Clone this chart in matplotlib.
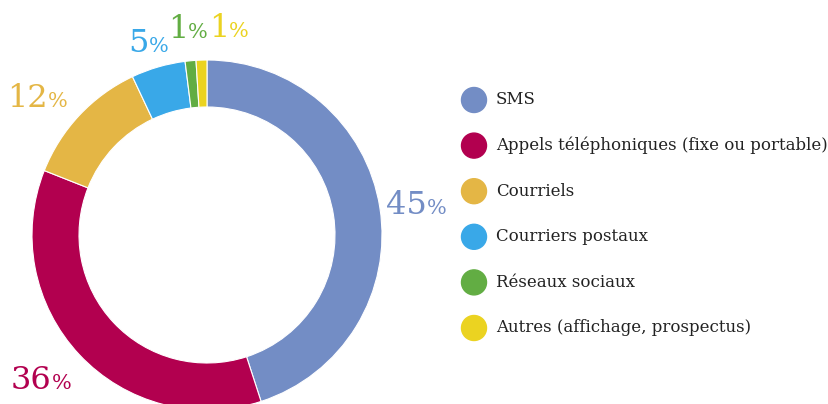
import numpy as np
import matplotlib
matplotlib.use('Agg')
import matplotlib.pyplot as plt
from matplotlib.patches import Circle

categories = ['SMS', 'Appels téléphoniques (fixe ou portable)', 'Courriels',
              'Courriers postaux', 'Réseaux sociaux', 'Autres (affichage, prospectus)']
values = [45, 36, 12, 5, 1, 1]
colors = ['#738DC5', '#B2004F', '#E4B645', '#39A8E8', '#62AD43', '#EBD321']

# label placement tweaks (radius in px, angle nudge in degrees)
label_r = [212, 218, 220, 204, 210, 211]
label_nudge = [0, -2.7, 3.7, 0.6, -0.2, -7.8]

W, H = 829, 404
fig = plt.figure(figsize=(W / 100, H / 100), dpi=100)
ax = fig.add_axes([0, 0, 1, 1])

cx, cy, R = 207, H - 235, 175
wedges, _ = ax.pie(values, colors=colors, startangle=90, counterclock=False,
                   center=(cx, cy), radius=R,
                   wedgeprops=dict(width=47, edgecolor='white', linewidth=0.8))
ax.set_xlim(0, W)
ax.set_ylim(0, H)
ax.set_aspect('equal')
ax.axis('off')

# percent labels: big number + small %
fig.canvas.draw()
renderer = fig.canvas.get_renderer()
for w, v, c, r, nd in zip(wedges, values, colors, label_r, label_nudge):
    ang = np.deg2rad((w.theta1 + w.theta2) / 2 + nd)
    x = cx + r * np.cos(ang)
    y = cy + r * np.sin(ang)
    t1 = ax.text(0, 0, str(v), fontsize=23, color=c, family='DejaVu Serif',
                 ha='left', va='baseline')
    t2 = ax.text(0, 0, '%', fontsize=15, color=c, family='DejaVu Serif',
                 ha='left', va='baseline')
    w1 = t1.get_window_extent(renderer).width
    w2 = t2.get_window_extent(renderer).width
    x0 = x - (w1 + w2) / 2
    base = y - 12
    t1.set_position((x0, base))
    t2.set_position((x0 + w1, base))

# legend
for i, (lab, c) in enumerate(zip(categories, colors)):
    ly = H - (100 + i * 45.6)
    ax.add_patch(Circle((474, ly), 12.5, color=c))
    ax.text(496, ly, lab, fontsize=12, color='#222222', family='DejaVu Serif',
            ha='left', va='center')

fig.savefig('out.png', dpi=100)
